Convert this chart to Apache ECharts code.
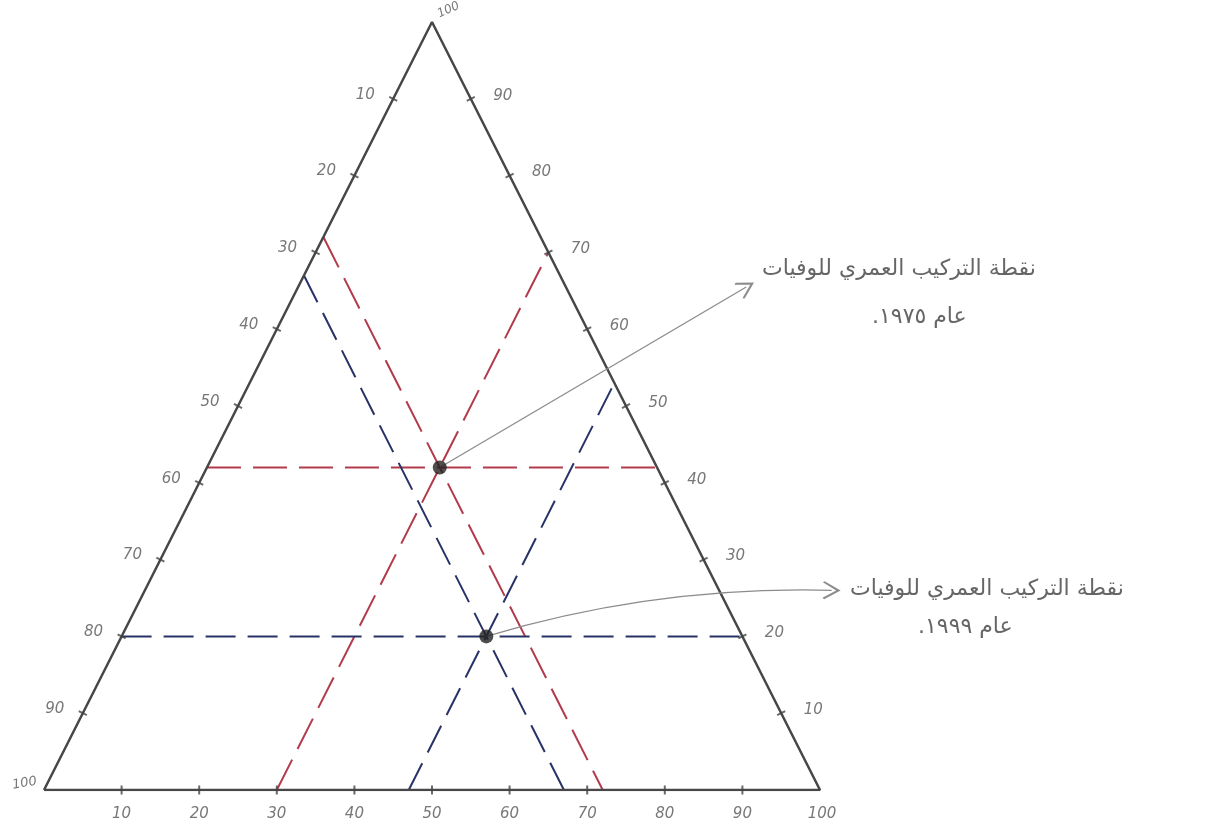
<!DOCTYPE html>
<html>
<head>
<meta charset="utf-8">
<script src="https://cdn.jsdelivr.net/npm/echarts@6/dist/echarts.min.js"></script>
<style>
  html, body { margin: 0; padding: 0; background: #ffffff; }
  #chart { width: 1206px; height: 834px; }
</style>
</head>
<body>
<div id="chart"></div>
<script>
// tick steps along each edge of the triangle (percent)
const tickSteps = [10, 20, 30, 40, 50, 60, 70, 80, 90];
const bottomLabels = ['10', '20', '30', '40', '50', '60', '70', '80', '90', '100'];
const leftLabels = ['10', '20', '30', '40', '50', '60', '70', '80', '90', '100'];   // 0 at the top vertex
const rightLabels = ['10', '20', '30', '40', '50', '60', '70', '80', '90', '100'];  // 0 at the bottom-right vertex

// composition of each point: [horizontal share (right edge), bottom share, left share]
const years = ['١٩٧٥', '١٩٩٩'];
const point1975 = [42, 30, 28];
const point1999 = [20, 47, 33];
const arrowEnds = [[90.5, 65.5], [101.5, 26]];
const noteTitle = 'نقطة التركيب العمري للوفيات';

// ternary helpers -> cartesian (bottom-left = 0,0 ; bottom-right = 100,0 ; top = 50,100)
const onBottom = v => [v, 0];
const onLeft = l => [(100 - l) / 2, 100 - l];
const onRight = r => [100 - r / 2, r];
const toXY = p => [p[1] + p[0] / 2, p[0]];

function guideLines(p, color, dash) {
  const [a, b, c] = p;
  const segs = [
    [onLeft(100 - a), onRight(a)],
    [onBottom(b), onRight(100 - b)],
    [onLeft(c), onBottom(100 - c)]
  ];
  return segs.map(s => ({
    type: 'line', data: s, showSymbol: false, silent: true, z: 2,
    lineStyle: { color: color, width: 2, type: dash }
  }));
}

const labelFont = { fontFamily: 'DejaVu Sans', fontStyle: 'italic', fontSize: 15, color: '#555' };

const tickSeries = [
  { pts: tickSteps.map(onBottom), rot: 90 },
  { pts: tickSteps.map(onLeft), rot: -26.8 },
  { pts: tickSteps.map(onRight), rot: 26.8 }
].map(t => ({
  type: 'scatter', data: t.pts, symbol: 'rect', symbolSize: [9, 2], symbolRotate: t.rot,
  itemStyle: { color: '#444' }, silent: true, z: 3
}));

function labelSeries(items, offset, rotate, size) {
  return {
    type: 'scatter', data: items, symbolSize: 0, silent: true, clip: false, z: 4,
    label: Object.assign({}, labelFont, {
      show: true, position: 'inside', offset: offset, rotate: rotate || 0, formatter: '{b}',
      fontSize: size || labelFont.fontSize
    })
  };
}

const bottomItems = bottomLabels.map((s, i) => ({ name: s, value: onBottom((i + 1) * 10) }));
const leftItems = leftLabels.map((s, i) => ({ name: s, value: onLeft((i + 1) * 10) }));
const rightItems = rightLabels.map((s, i) => ({ name: s, value: onRight((i + 1) * 10) }));

// RLM marks keep the trailing full stop on the left, as in right-to-left writing
const rtl = s => '\u200F' + s + '\u200F';
const noteFont = '22px "DejaVu Sans"';

const chart = echarts.init(document.getElementById('chart'));
chart.setOption({
  backgroundColor: '#ffffff',
  animation: false,
  grid: { left: 44, right: 386, top: 22, bottom: 44 },
  xAxis: { type: 'value', min: 0, max: 100, show: false },
  yAxis: { type: 'value', min: 0, max: 100, show: false },
  graphic: [
    { type: 'text', left: 762, top: 258, style: { text: rtl(noteTitle), font: noteFont, fill: '#666' } },
    { type: 'text', left: 872, top: 306, style: { text: rtl('عام ' + years[0] + '.'), font: noteFont, fill: '#666' } },
    { type: 'text', left: 850, top: 578, style: { text: rtl(noteTitle), font: noteFont, fill: '#666' } },
    { type: 'text', left: 918, top: 616, style: { text: rtl('عام ' + years[1] + '.'), font: noteFont, fill: '#666' } }
  ],
  series: [
    ...guideLines(point1975, '#b23a4c', [34, 12]),
    ...guideLines(point1999, '#283266', [30, 12]),
    {
      type: 'line', data: [onBottom(0), onBottom(100), onLeft(0), onBottom(0)],
      showSymbol: false, silent: true, z: 3,
      lineStyle: { color: '#474747', width: 2.5 }
    },
    ...tickSeries,
    labelSeries(bottomItems.slice(0, 9), [0, 24]),
    labelSeries([bottomItems[9]], [2, 24]),
    labelSeries(leftItems.slice(0, 9), [-28, -4]),
    labelSeries([leftItems[9]], [-18, -10], 10, 13),
    labelSeries(rightItems.slice(0, 9), [32, -3]),
    labelSeries([rightItems[9]], [20, -4], 25, 12),
    {
      type: 'lines', coordinateSystem: 'cartesian2d', silent: true, clip: false, z: 5,
      symbol: ['none', 'path://M0,0 L10,11 L8.6,12.2 L0,3 L-8.6,12.2 L-10,11 Z'], symbolSize: 18,
      lineStyle: { color: '#8c8c8c', width: 1.3, opacity: 1 },
      data: [
        { coords: [toXY(point1975), arrowEnds[0]] },
        { coords: [toXY(point1999), arrowEnds[1]], lineStyle: { curveness: 0.08 } }
      ]
    },
    {
      type: 'scatter', data: [toXY(point1975), toXY(point1999)], symbol: 'circle', symbolSize: 14,
      itemStyle: { color: '#222' }, silent: true, z: 6
    }
  ]
});
</script>
</body>
</html>
